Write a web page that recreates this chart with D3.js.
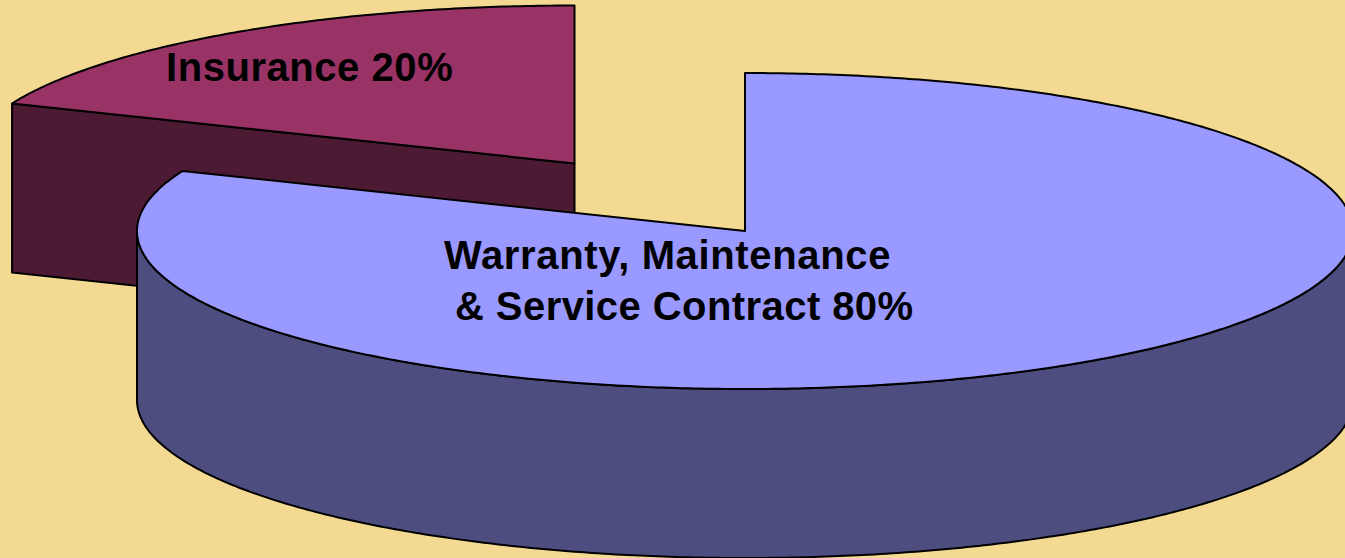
<!DOCTYPE html>
<html>
<head>
<meta charset="utf-8">
<title>Warranty and insurance share</title>
<script src="https://cdnjs.cloudflare.com/ajax/libs/d3/7.8.5/d3.min.js"></script>
<style>
    html, body { margin: 0; padding: 0; background: #f3d991; overflow: hidden; }
    svg { display: block; }
    text { font-family: "Liberation Sans", Arial, sans-serif; font-weight: bold; font-size: 40px; fill: #000; }
</style>
</head>
<body>
<div id="chart"></div>
<script>
'use strict';

const categories = ['Warranty, Maintenance & Service Contract', 'Insurance'];
// angular shares as drawn; the printed labels say 80 / 20
const drawnShares = [81.2, 18.8];
const topColors = ['#9999ff', '#993366'];
const sideColors = ['#4d4d80', '#4d1a33'];
const labelLines = [
    ['Warranty, Maintenance', '& Service Contract 80%'],
    ['Insurance 20%']
];

const width = 1345;
const height = 558;
const radiusX = 608;
const radiusY = 158;
const depth = 169;
const centers = [[745, 231], [574.5, 163.5]];
const labelPos = [[[444, 268.5], [455, 320]], [[166, 81]]];
const labelSpacing = [[0.65, 0.43], [0.55]];

const svg = d3.select('#chart')
    .append('svg')
    .attr('width', width)
    .attr('height', height)
    .attr('viewBox', `0 0 ${width} ${height}`);

const arcs = d3.pie().sort(null)(drawnShares);
const line = d3.line();

function rimPoint(center, angle, drop = 0) {
    return [center[0] + radiusX * Math.sin(angle), center[1] - radiusY * Math.cos(angle) + drop];
}

function rim(center, a0, a1, drop = 0) {
    const steps = Math.ceil(Math.abs(a1 - a0) / 0.01);
    return d3.range(steps + 1).map(i => rimPoint(center, a0 + (a1 - a0) * i / steps, drop));
}

function drawShape(points, fill) {
    svg.append('path')
        .attr('d', line(points) + 'Z')
        .attr('fill', fill)
        .attr('stroke', '#000')
        .attr('stroke-width', 2)
        .attr('stroke-linejoin', 'round');
}

// insurance slice sits behind, so it goes first
const small = arcs[1];
const smallCenter = centers[1];
const outer = rimPoint(smallCenter, small.startAngle);
drawShape([
    outer,
    smallCenter,
    [smallCenter[0], smallCenter[1] + depth],
    [outer[0], outer[1] + depth]
], sideColors[1]);
drawShape([smallCenter, ...rim(smallCenter, small.startAngle, small.endAngle)], topColors[1]);

// big slice: only the front half of its wall shows
const big = arcs[0];
const bigCenter = centers[0];
const wallFrom = Math.PI / 2;
const wallTo = 3 * Math.PI / 2;
drawShape([
    ...rim(bigCenter, wallFrom, wallTo),
    ...rim(bigCenter, wallTo, wallFrom, depth)
], sideColors[0]);
drawShape([bigCenter, ...rim(bigCenter, big.startAngle, big.endAngle)], topColors[0]);

labelLines.forEach((lines, i) => {
    lines.forEach((txt, j) => {
        svg.append('text')
            .attr('x', labelPos[i][j][0])
            .attr('y', labelPos[i][j][1])
            .style('letter-spacing', `${labelSpacing[i][j]}px`)
            .text(txt);
    });
});
</script>
</body>
</html>
